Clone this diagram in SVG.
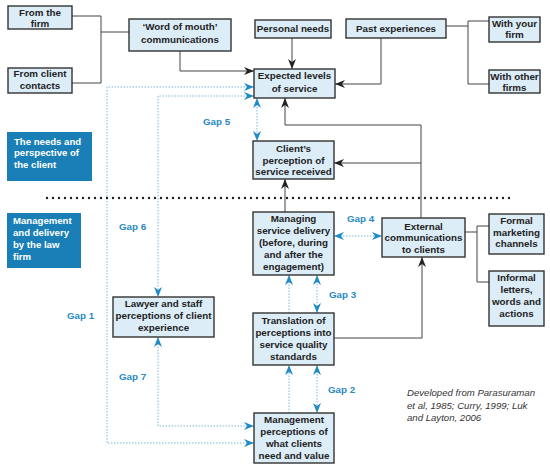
<svg xmlns="http://www.w3.org/2000/svg" width="550" height="470" viewBox="0 0 550 470">
<defs>
<marker id="ak" viewBox="0 0 10 8" refX="10" refY="4" markerWidth="10" markerHeight="8" markerUnits="userSpaceOnUse" orient="auto-start-reverse"><path d="M0,0 L10,4 L0,8 L3,4 z" fill="#222"/></marker>
<marker id="ab" viewBox="0 0 10 8" refX="10" refY="4" markerWidth="10" markerHeight="8" markerUnits="userSpaceOnUse" orient="auto-start-reverse"><path d="M0,0 L10,4 L0,8 L3,4 z" fill="#1e8ac6"/></marker>
<style>
.bx{fill:#dcedf8;stroke:#333;stroke-width:1.4}
.t{font-family:"Liberation Sans",Arial,sans-serif;font-size:9.8px;font-weight:bold;fill:#222;text-anchor:middle}
.lb{fill:#1a7fb6}
.lt{font-family:"Liberation Sans",Arial,sans-serif;font-size:9.6px;font-weight:bold;fill:#fff}
.gap{font-family:"Liberation Sans",Arial,sans-serif;font-size:9.8px;font-weight:bold;fill:#2a8ac4}
.s{fill:none;stroke:#444;stroke-width:1}
.d{fill:none;stroke:#7db7dc;stroke-width:1;stroke-dasharray:1.5 1.5}
.note{font-family:"Liberation Sans",Arial,sans-serif;font-size:9.6px;font-style:italic;fill:#333}
</style>
</defs>
<rect width="550" height="470" fill="#fff"/>

<g id="connectors">
<path class="s" d="M72,16 H101 M72,83 H101 M101,16 V83 M101,32 H129"/>
<path class="s" d="M180,51 V71 H254" marker-end="url(#ak)"/>
<path class="s" d="M292,38 V69" marker-end="url(#ak)"/>
<path class="s" d="M381,38 V84 H335" marker-end="url(#ak)"/>
<path class="s" d="M446,26 H468 M468,21 V84 M468,21 H489 M468,84 H489"/>
<path class="s" d="M421,218 V125 H285 V98" marker-end="url(#ak)"/>
<path class="s" d="M421,163 H334" marker-end="url(#ak)"/>
<path class="s" d="M285,212 V179" marker-end="url(#ak)"/>
<path class="s" d="M334,338 H422 V257" marker-end="url(#ak)"/>
<path class="s" d="M465,232 H477 M477,226 V282 M477,226 H489 M477,282 H489"/>

<path class="d" d="M254,87 H107 V443 H254" marker-start="url(#ab)" marker-end="url(#ab)"/>
<path class="d" d="M254,96 H158 V297" marker-start="url(#ab)" marker-end="url(#ab)"/>
<path class="d" d="M254,426 H158 V337" marker-start="url(#ab)" marker-end="url(#ab)"/>
<path class="d" d="M257,98 V141" marker-start="url(#ab)" marker-end="url(#ab)"/>
<path class="d" d="M334,236 H382" marker-start="url(#ab)" marker-end="url(#ab)"/>
<path class="d" d="M317,275 V313" marker-start="url(#ab)" marker-end="url(#ab)"/>
<path class="d" d="M289,313 V275" marker-end="url(#ab)"/>
<path class="d" d="M317,365 V413" marker-start="url(#ab)" marker-end="url(#ab)"/>
<path class="d" d="M289,413 V365" marker-end="url(#ab)"/>
</g>

<line x1="47" y1="198" x2="515" y2="198" stroke="#222" stroke-width="2.4" stroke-linecap="round" stroke-dasharray="0 6"/>

<g id="gap-labels">
<text class="gap" x="203" y="124.5">Gap 5</text>
<text class="gap" x="347" y="221.5">Gap 4</text>
<text class="gap" x="119" y="229.5">Gap 6</text>
<text class="gap" x="329" y="297.5">Gap 3</text>
<text class="gap" x="67" y="318.5">Gap 1</text>
<text class="gap" x="119" y="379.5">Gap 7</text>
<text class="gap" x="328" y="392.5">Gap 2</text>
</g>

<g id="from-firm"><rect class="bx" x="8" y="6" width="64" height="23"/><text class="t" x="40" y="16">From the</text><text class="t" x="40" y="27">firm</text></g>
<g id="from-client"><rect class="bx" x="8" y="68" width="64" height="25"/><text class="t" x="40" y="77">From client</text><text class="t" x="40" y="89">contacts</text></g>
<g id="word-of-mouth"><rect class="bx" x="129" y="19" width="102" height="32"/><text class="t" x="180" y="30">‘Word of mouth’</text><text class="t" x="180" y="43">communications</text></g>
<g id="personal-needs"><rect class="bx" x="255" y="20" width="76" height="18"/><text class="t" x="293" y="31.5">Personal needs</text></g>
<g id="past-experiences"><rect class="bx" x="346" y="19" width="100" height="19"/><text class="t" x="396" y="31.5">Past experiences</text></g>
<g id="with-your-firm"><rect class="bx" x="489" y="17" width="51" height="25"/><text class="t" x="514.5" y="26.5">With your</text><text class="t" x="514.5" y="38">firm</text></g>
<g id="with-other-firms"><rect class="bx" x="489" y="70" width="51" height="23"/><text class="t" x="514.5" y="79.5">With other</text><text class="t" x="514.5" y="90.5">firms</text></g>
<g id="expected"><rect class="bx" x="254" y="69" width="81" height="29"/><text class="t" x="294.5" y="78.5">Expected levels</text><text class="t" x="294.5" y="91.5">of service</text></g>
<g id="needs-label"><rect class="lb" x="7" y="132" width="85" height="49"/><text class="lt" x="14" y="144.5">The needs and</text><text class="lt" x="14" y="156">perspective of</text><text class="lt" x="14" y="167.5">the client</text></g>
<g id="client-perception"><rect class="bx" x="253" y="141" width="81" height="38"/><text class="t" x="293.5" y="151.5">Client’s</text><text class="t" x="293.5" y="163.5">perception of</text><text class="t" x="293.5" y="174.5">service received</text></g>
<g id="mgmt-label"><rect class="lb" x="7" y="213" width="74" height="55"/><text class="lt" x="13" y="223.5">Management</text><text class="lt" x="13" y="235.5">and delivery</text><text class="lt" x="13" y="247.5">by the law</text><text class="lt" x="13" y="260">firm</text></g>
<g id="managing"><rect class="bx" x="253" y="212" width="81" height="63"/><text class="t" x="293.5" y="221.5">Managing</text><text class="t" x="293.5" y="233.5">service delivery</text><text class="t" x="293.5" y="245.5">(before, during</text><text class="t" x="293.5" y="257.5">and after the</text><text class="t" x="293.5" y="269.5">engagement)</text></g>
<g id="external"><rect class="bx" x="382" y="218" width="83" height="39"/><text class="t" x="423.5" y="229.5">External</text><text class="t" x="423.5" y="241">communications</text><text class="t" x="423.5" y="252.5">to clients</text></g>
<g id="formal"><rect class="bx" x="489" y="214" width="55" height="40"/><text class="t" x="516.5" y="223.5">Formal</text><text class="t" x="516.5" y="235.5">marketing</text><text class="t" x="516.5" y="246.5">channels</text></g>
<g id="informal"><rect class="bx" x="489" y="271" width="55" height="55"/><text class="t" x="516.5" y="280.5">Informal</text><text class="t" x="516.5" y="293">letters,</text><text class="t" x="516.5" y="305">words and</text><text class="t" x="516.5" y="316.5">actions</text></g>
<g id="lawyer"><rect class="bx" x="113" y="297" width="101" height="40"/><text class="t" x="163.5" y="306.5">Lawyer and staff</text><text class="t" x="163.5" y="318.5">perceptions of client</text><text class="t" x="163.5" y="330.5">experience</text></g>
<g id="translation"><rect class="bx" x="253" y="313" width="81" height="52"/><text class="t" x="293.5" y="323.5">Translation of</text><text class="t" x="293.5" y="335.5">perceptions into</text><text class="t" x="293.5" y="347.5">service quality</text><text class="t" x="293.5" y="359.5">standards</text></g>
<g id="mgmt-perceptions"><rect class="bx" x="254" y="413" width="80" height="50"/><text class="t" x="294" y="422.5">Management</text><text class="t" x="294" y="434.5">perceptions of</text><text class="t" x="294" y="446.5">what clients</text><text class="t" x="294" y="458.5">need and value</text></g>

<g id="note"><text class="note" x="407" y="396">Developed from Parasuraman</text><text class="note" x="407" y="408.5">et al, 1985; Curry, 1999; Luk</text><text class="note" x="407" y="420.5">and Layton, 2006</text></g>
</svg>
